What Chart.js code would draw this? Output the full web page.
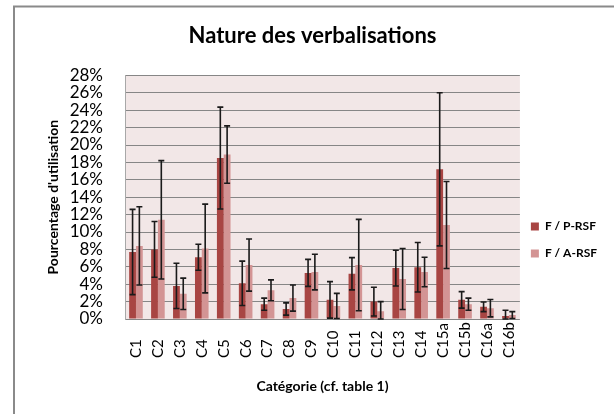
<!DOCTYPE html>
<html>
<head>
<meta charset="utf-8">
<script src="https://cdn.jsdelivr.net/npm/chart.js@4.4.0/dist/chart.umd.min.js"></script>
<style>
  body { margin: 0; background: #fff; }
</style>
</head>
<body>
<canvas id="myChart" width="614" height="414"></canvas>
<script>
// Data (percent)
const categories = ['C1', 'C2', 'C3', 'C4', 'C5', 'C6', 'C7', 'C8', 'C9', 'C10', 'C11', 'C12', 'C13', 'C14', 'C15a', 'C15b', 'C16a', 'C16b'];
const pRsf = [7.7, 8.0, 3.8, 7.1, 18.5, 4.1, 1.7, 1.15, 5.3, 2.2, 5.2, 2.0, 5.85, 5.95, 17.2, 2.2, 1.4, 0.35];
const pRsfErr = [4.9, 3.2, 2.6, 1.5, 5.85, 2.55, 0.7, 0.7, 1.55, 2.1, 1.85, 1.65, 2.05, 2.85, 8.8, 0.95, 0.55, 0.65];
const aRsf = [8.4, 11.4, 2.9, 8.1, 18.9, 6.2, 3.3, 2.4, 5.4, 1.5, 6.2, 0.9, 4.6, 5.4, 10.8, 1.7, 1.25, 0.45];
const aRsfErr = [4.5, 6.8, 1.8, 5.1, 3.3, 3.0, 1.2, 1.5, 2.05, 1.45, 5.25, 1.1, 3.5, 1.7, 5.0, 0.7, 1.0, 0.4];

const FONT = 'Lato';

// plot background + outer frame
const backgroundPlugin = {
  id: 'plotBg',
  beforeDraw(chart) {
    const ctx = chart.ctx;
    const a = chart.chartArea;
    ctx.save();
    ctx.fillStyle = '#F2E7E7';
    ctx.fillRect(a.left, a.top, a.right - a.left, a.bottom - a.top);
    ctx.strokeStyle = '#8a8a8a';
    ctx.lineWidth = 2;
    ctx.beginPath();
    ctx.moveTo(14, chart.height);
    ctx.lineTo(14, 6.5);
    ctx.lineTo(chart.width, 6.5);
    ctx.stroke();
    ctx.restore();
  }
};

// error bars drawn from the y scale
const errorBarPlugin = {
  id: 'errorBars',
  afterDatasetsDraw(chart) {
    const ctx = chart.ctx;
    const y = chart.scales.y;
    const errs = [pRsfErr, aRsfErr];
    ctx.save();
    ctx.strokeStyle = '#1a1a1a';
    ctx.lineWidth = 1.6;
    chart.data.datasets.forEach(function (ds, d) {
      const meta = chart.getDatasetMeta(d);
      meta.data.forEach(function (bar, i) {
        const v = ds.data[i];
        const e = errs[d][i];
        const top = y.getPixelForValue(v + e);
        const bot = y.getPixelForValue(Math.max(0, v - e));
        const x = bar.x;
        ctx.beginPath();
        ctx.moveTo(x, top);
        ctx.lineTo(x, bot);
        ctx.moveTo(x - 3, top);
        ctx.lineTo(x + 3, top);
        ctx.moveTo(x - 3, bot);
        ctx.lineTo(x + 3, bot);
        ctx.stroke();
      });
    });
    ctx.restore();
  }
};

// vertical category labels, aligned at the bottom
const xLabelPlugin = {
  id: 'xLabels',
  afterDraw(chart) {
    const ctx = chart.ctx;
    const x = chart.scales.x;
    ctx.save();
    ctx.font = '15px ' + FONT;
    ctx.fillStyle = '#000';
    ctx.textAlign = 'left';
    ctx.textBaseline = 'middle';
    categories.forEach(function (c, i) {
      ctx.save();
      ctx.translate(x.getPixelForTick(i), x.top + 39);
      ctx.rotate(-Math.PI / 2);
      ctx.fillText(c, 0, 0);
      ctx.restore();
    });
    ctx.restore();
  }
};

// nudge the legend to where it sits in the picture
const legendShift = {
  id: 'legendShift',
  afterLayout(chart) {
    const l = chart.legend;
    l.left -= 4; l.right -= 4;
    l.top += 30; l.bottom += 30;
  }
};

// Define the setup section
const data = {
  labels: categories,
  datasets: [{
    label: 'F / P-RSF',
    data: pRsf,
    backgroundColor: '#A84543',
    categoryPercentage: 0.62,
    barPercentage: 1.0
  }, {
    label: 'F / A-RSF',
    data: aRsf,
    backgroundColor: '#D39494',
    categoryPercentage: 0.62,
    barPercentage: 1.0
  }]
};

// Define the config section
const config = {
  type: 'bar',
  data: data,
  plugins: [backgroundPlugin, errorBarPlugin, xLabelPlugin, legendShift],
  options: {
    responsive: false,
    animation: false,
    devicePixelRatio: 1,
    layout: { padding: { top: 6, left: 14, right: 3, bottom: 0 } },
    plugins: {
      title: {
        display: true,
        text: 'Nature des verbalisations',
        color: '#000',
        font: { family: FONT, size: 22, weight: 'bold' },
        padding: { top: 17, bottom: 26 }
      },
      legend: {
        position: 'right',
        labels: {
          boxWidth: 8,
          boxHeight: 8,
          padding: 15,
          color: '#000',
          font: { family: FONT, size: 12, weight: 'bold' }
        }
      },
      tooltip: { enabled: false }
    },
    scales: {
      x: {
        grid: { display: false },
        border: { display: false },
        ticks: { display: false },
        title: {
          display: true,
          text: 'Catégorie (cf. table 1)',
          color: '#000',
          font: { family: FONT, size: 14, weight: 'bold' },
          padding: { top: 0, bottom: 19 }
        },
        afterFit: function (s) { s.height = 95; }
      },
      y: {
        min: 0,
        max: 28,
        ticks: {
          stepSize: 2,
          autoSkip: false,
          padding: 22,
          color: '#000',
          font: { family: FONT, size: 17, lineHeight: 1 },
          callback: function (v) { return v + '%'; }
        },
        grid: { color: '#868686', lineWidth: 1, drawTicks: false },
        border: { display: true, color: '#A8A8A8', width: 1 },
        title: {
          display: true,
          text: "Pourcentage d'utilisation",
          color: '#000',
          font: { family: FONT, size: 14, weight: 'bold' },
          padding: { top: 31, bottom: 0 }
        },
        afterFit: function (s) { s.width = 111; }
      }
    }
  }
};

// Create a new chart instance
var ctx = document.getElementById('myChart').getContext('2d');
var myChart = new Chart(ctx, config);
</script>
</body>
</html>
